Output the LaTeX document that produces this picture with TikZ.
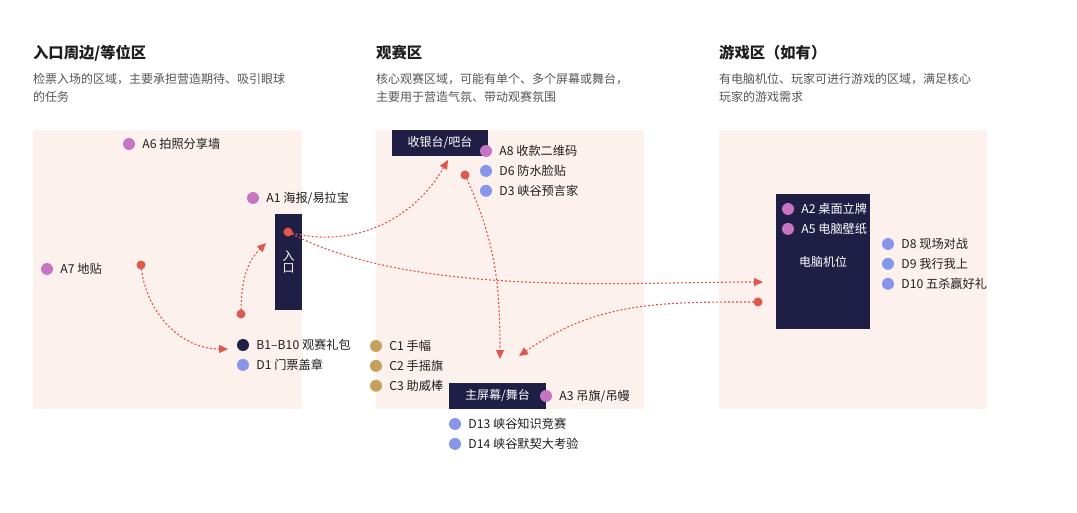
\documentclass[tikz,border=0pt]{standalone}
\usepackage{fontspec}
\setmainfont{Noto Sans CJK SC}
\usepackage{xcolor}
\usetikzlibrary{arrows.meta, positioning}

\definecolor{zonebg}{HTML}{FDF1EE}
\definecolor{navy}{HTML}{1F1E45}
\definecolor{dotpink}{HTML}{C775C3}
\definecolor{dotblue}{HTML}{8896EA}
\definecolor{dotgold}{HTML}{C4A15C}
\definecolor{flowred}{HTML}{E0574D}
\definecolor{txtdark}{HTML}{1E1E1E}
\definecolor{txtgray}{HTML}{555555}

\begin{document}
\begin{tikzpicture}[
  x=1pt, y=-1pt,
  node distance=7.5pt,
  title/.style={anchor=west, inner sep=0pt, text=txtdark, font=\fontsize{15.3}{18}\selectfont\bfseries},
  desc/.style={anchor=west, inner sep=0pt, align=left, text=txtgray, font=\fontsize{12}{18}\selectfont},
  block/.style={rectangle, fill=navy, text=white, inner sep=0pt, align=center, font=\fontsize{12}{12.5}\selectfont},
  dot/.style={circle, inner sep=0pt, minimum size=12pt},
  pdot/.style={dot, fill=dotpink},
  bdot/.style={dot, fill=dotblue},
  gdot/.style={dot, fill=dotgold},
  ndot/.style={dot, fill=navy},
  rdot/.style={circle, inner sep=0pt, minimum size=9pt, fill=flowred},
  lbl/.style={inner sep=0pt, text=txtdark, font=\fontsize{12.2}{14}\selectfont},
  wlbl/.style={lbl, text=white},
  flow/.style={draw=flowred, line width=1.1pt, dash pattern=on 2pt off 2pt, -{Triangle[length=9pt,width=8pt]}}
]
\useasboundingbox (0,0) rectangle (1077,513);

% zones
\fill[zonebg] (33,130) rectangle (302,409);
\fill[zonebg] (376,130) rectangle (644,409);
\fill[zonebg] (719,130) rectangle (987,409);

% headings
\node[title] (t-entry) at (33,53) {入口周边/等位区};
\node[desc] (d-entry) at (33,87.5) {检票入场的区域，主要承担营造期待、吸引眼球\\的任务};
\node[title] (t-watch) at (376,53) {观赛区};
\node[desc] (d-watch) at (376,87.5) {核心观赛区域，可能有单个、多个屏幕或舞台，\\主要用于营造气氛、带动观赛氛围};
\node[title] (t-game) at (719,53) {游戏区（如有）};
\node[desc] (d-game) at (719,87.5) {有电脑机位、玩家可进行游戏的区域，满足核心\\玩家的游戏需求};

% blocks
\node[block, minimum width=27pt, minimum height=96pt] (entry) at (288.5,262) {入\\口};
\node[block, minimum width=96pt, minimum height=26pt] (bar) at (440,143) {收银台/吧台};
\node[block, minimum width=97pt, minimum height=26pt] (stage) at (497.5,396) {主屏幕/舞台};
\node[block, minimum width=94pt, minimum height=135pt] (pc) at (823,261.5) {\raisebox{-3pt}{电脑机位}};

% entry zone items
\node[pdot] (a6) at (129,144) {};
\node[lbl, right=7pt of a6] {A6 拍照分享墙};
\node[pdot] (a1) at (253,198) {};
\node[lbl, right=7pt of a1] {A1 海报/易拉宝};
\node[pdot] (a7) at (47,269) {};
\node[lbl, right=7pt of a7] {A7 地贴};
\node[ndot] (b1) at (243,345) {};
\node[lbl, right=7pt of b1] {B1–B10 观赛礼包};
\node[bdot, below=of b1] (d1) {};
\node[lbl, right=7pt of d1] {D1 门票盖章};

% watch zone items
\node[pdot] (a8) at (486,151) {};
\node[lbl, right=7pt of a8] {A8 收款二维码};
\node[bdot, below=of a8] (d6) {};
\node[lbl, right=7pt of d6] {D6 防水脸贴};
\node[bdot, below=of d6] (d3) {};
\node[lbl, right=7pt of d3] {D3 峡谷预言家};
\node[gdot] (c1) at (376,346) {};
\node[lbl, right=7pt of c1] {C1 手幅};
\node[gdot, below=of c1] (c2) {};
\node[lbl, right=7pt of c2] {C2 手摇旗};
\node[gdot, below=of c2] (c3) {};
\node[lbl, right=7pt of c3] {C3 助威棒};
\node[pdot] (a3) at (546,396) {};
\node[lbl, right=7pt of a3] {A3 吊旗/吊幔};
\node[bdot] (d13) at (455,424) {};
\node[lbl, right=7pt of d13] {D13 峡谷知识竞赛};
\node[bdot, below=of d13] (d14) {};
\node[lbl, right=7pt of d14] {D14 峡谷默契大考验};

% game zone items
\node[pdot] (a2) at (788,209) {};
\node[wlbl, right=7pt of a2] {A2 桌面立牌};
\node[pdot, below=of a2] (a5) {};
\node[wlbl, right=7pt of a5] {A5 电脑壁纸};
\node[bdot] (d8) at (888,244) {};
\node[lbl, right=7pt of d8] {D8 现场对战};
\node[bdot, below=of d8] (d9) {};
\node[lbl, right=7pt of d9] {D9 我行我上};
\node[bdot, below=of d9] (d10) {};
\node[lbl, right=7pt of d10] {D10 五杀赢好礼};

% flow
\node[rdot] (gate) at (288,232) {};
\node[rdot] (s-floor) at (141,265) {};
\node[rdot] (s-queue) at (241,314) {};
\node[rdot] (s-bar) at (465,175) {};
\node[rdot] (s-pc) at (758,302) {};
\coordinate (e-gift) at (228,349);
\coordinate (e-gate) at (266,243);
\coordinate (e-bar) at (448,160);
\coordinate (e-pc) at (763,282);
\coordinate (e-stage1) at (500,359);
\coordinate (e-stage2) at (519,356);

\draw[flow] (s-floor.center) to[out=-85, in=180] (e-gift);
\draw[flow] (s-queue.center) to[out=90, in=-135] (e-gate);
\draw[flow] (gate.center) to[out=-15, in=-120] (e-bar);
\draw[flow] (gate.center) to[out=-28, in=180, looseness=0.75] (e-pc);
\draw[flow] (s-bar.center) to[out=-65, in=90] (e-stage1);
\draw[flow] (s-pc.center) to[out=180, in=35] (e-stage2);
\end{tikzpicture}
\end{document}
